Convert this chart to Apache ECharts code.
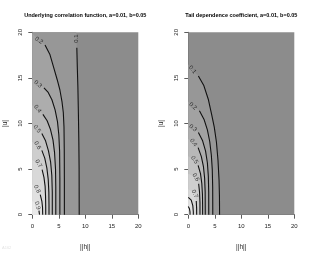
<!DOCTYPE html>
<html><head><meta charset="utf-8">
<script src="https://cdn.jsdelivr.net/npm/echarts@6/dist/echarts.min.js"></script>
<style>html,body{margin:0;padding:0;background:#fff}#c{width:311px;height:256px}</style>
</head><body><div id="c"></div>
<script>
// contour levels
const levels = ['0.1','0.2','0.3','0.4','0.5','0.6','0.7','0.8','0.9'];
const axisTicks = [0, 5, 10, 15, 20];
const titles = ['Underlying correlation function, a=0.01, b=0.05', 'Tail dependence coefficient, a=0.01, b=0.05'];

// Left panel contours: [|h|, |u|] points
const left01 = [[0,20],[8.3,20],[8.33,19.3],[8.4,18.3],[8.5,16],[8.6,14],[8.7,11],[8.78,8],[8.83,5],[8.85,0]];
const left02 = [[0,19.9],[1.26,19.1],[2.4,18.6],[3.3,17.6],[4.0,16.2],[4.7,14.8],[5.2,13.7],[5.6,12.4],[5.85,11.2],[5.98,9.6],[6.03,7],[6.05,4],[6.05,0]];
const left03 = [[0,14.8],[1.07,14.3],[2.2,13.9],[3.0,13.4],[3.7,12.6],[4.3,11.5],[4.75,10.2],[5.0,8.8],[5.15,7],[5.2,4],[5.2,0]];
const left04 = [[0,12.0],[0.98,11.6],[2.0,11.0],[2.8,10.3],[3.4,9.4],[3.9,8.2],[4.2,6.8],[4.38,5],[4.43,3],[4.43,0]];
const left05 = [[0,9.8],[0.9,9.4],[1.8,8.9],[2.5,8.1],[3.05,7.0],[3.45,5.8],[3.68,4.3],[3.77,2.5],[3.77,0]];
const left06 = [[0,8.0],[0.98,7.6],[1.8,7.05],[2.35,6.2],[2.75,5.1],[3.0,3.9],[3.12,2.5],[3.15,1],[3.15,0]];
const left07 = [[0,6.0],[1.17,5.6],[1.85,4.95],[2.2,4.1],[2.42,3.1],[2.5,2],[2.53,0.8],[2.53,0]];
const left08 = [[0,3.3],[0.9,2.8],[1.5,2.2],[1.8,1.5],[1.93,0.8],[1.96,0]];
const left09 = [[0,1.5],[0.95,1.0],[1.25,0.45],[1.36,0]];
const leftLabelIdx = [2,1,1,1,1,1,1,1,1];
const leftLabelRot = [90,-35,-40,-54,-55,-61,-58,-65,-75];

// Right panel contours
const right01 = [[0,16.5],[0.79,15.9],[1.9,15.2],[2.9,14.2],[3.8,12.6],[4.4,11.0],[4.9,9.6],[5.3,8],[5.6,6],[5.8,3.8],[5.88,2],[5.9,0]];
const right02 = [[0,12.4],[0.89,11.9],[2.1,11.4],[3.0,10.4],[3.6,9.3],[4.05,8.0],[4.35,6.5],[4.52,5],[4.6,3],[4.62,0]];
const right03 = [[0,9.9],[0.89,9.5],[1.9,9.0],[2.7,8.1],[3.25,7.0],[3.6,5.7],[3.78,4.2],[3.85,2.5],[3.86,0]];
const right04 = [[0,8.3],[0.98,7.9],[1.85,7.35],[2.45,6.4],[2.85,5.3],[3.08,4.0],[3.18,2.5],[3.2,0]];
const right05 = [[0,6.4],[1.17,6.0],[1.85,5.4],[2.3,4.5],[2.55,3.4],[2.67,2.2],[2.7,1],[2.7,0]];
const right06 = [[0,4.5],[1.4,4.1],[1.95,3.4],[2.12,2.5],[2.2,1.3],[2.2,0]];
const right07 = [[0,2.8],[1.2,2.3],[1.5,1.5],[1.57,0.7],[1.58,0]];
const right08 = [[0,1.9],[0.55,1.6],[0.85,1.0],[0.95,0.3],[0.95,0]];
const right09 = [[0,0.9],[0.22,0.65],[0.32,0.3],[0.33,0]];
const rightLabelIdx = [1,1,1,1,1,1,1,-1,-1];
const rightLabelRot = [-50,-40,-40,-55,-55,-60,-65,0,0];

// grey shades: below 0.1, then one per band above each level
const bandGray = ['#8c8c8c','#979797','#a2a2a2','#adadad','#b8b8b8','#c3c3c3','#cecece','#d8d8d8','#e1e1e1','#eaeaea'];

const panels = [
  {contours:[left01,left02,left03,left04,left05,left06,left07,left08,left09], idx:leftLabelIdx, rot:leftLabelRot, left:32.3},
  {contours:[right01,right02,right03,right04,right05,right06,right07,right08,right09], idx:rightLabelIdx, rot:rightLabelRot, left:188.3}
];
const copy = arr => arr.map(pt => [pt[0], pt[1]]);
const FONT = 'Liberation Sans';

function buildOption(f) {
  const grids = [], xAxes = [], yAxes = [], series = [], titleArr = [];
  panels.forEach((p, k) => {
    grids.push({left:p.left, top:32.3, width:106, height:182.4});
    if (f.titles) titleArr.push({text:titles[k], left:p.left+53, top:12, textAlign:'center', padding:0,
      textStyle:{fontFamily:FONT, fontSize:5.5, fontWeight:'bold', color:'#000'}});
    if (f.axisStyle) {
      xAxes.push({gridIndex:k, type:'value', min:0, max:20, interval:5, name:'||h||', nameLocation:'middle', nameGap:29,
        nameTextStyle:{fontFamily:FONT, fontSize:6.5, color:'#222'},
        axisLine:{show:true, onZero:false, lineStyle:{color:'#333', width:0.8}},
        axisTick:{show:true, length:4, lineStyle:{color:'#333', width:0.8}},
        axisLabel:{fontFamily:FONT, fontSize:6, color:'#222', margin:9},
        splitLine:{show:false}});
      yAxes.push({gridIndex:k, type:'value', min:0, max:20, interval:5, name:'|u|', nameLocation:'middle', nameGap:24,
        nameTextStyle:{fontFamily:FONT, fontSize:6.5, color:'#222'},
        axisLine:{show:true, onZero:false, lineStyle:{color:'#333', width:0.8}},
        axisTick:{show:true, length:4, lineStyle:{color:'#333', width:0.8}},
        axisLabel:{fontFamily:FONT, fontSize:6, color:'#222', margin:9, rotate:90},
        splitLine:{show:false}});
    } else {
      xAxes.push({gridIndex:k, type:'value', min:0, max:20});
      yAxes.push({gridIndex:k, type:'value', min:0, max:20});
    }
    const contours = p.contours.map(copy);
    series.push({type:'custom', xAxisIndex:k, yAxisIndex:k, z:1,
      data:[[0, 0, 20, 20]],
      renderItem: function (params, api) {
        const a = api.coord([api.value(0), api.value(1)]);
        const b = api.coord([api.value(2), api.value(3)]);
        return {type:'rect', shape:{x:a[0], y:b[1], width:b[0]-a[0], height:a[1]-b[1]}, style:{fill:bandGray[0]}};
      }});
    contours.forEach((pts, i) => {
      if (f.fill === 'line') {
        series.push({type:'line', xAxisIndex:k, yAxisIndex:k, data:copy(pts), symbol:'none', z:2 + i,
          lineStyle:{color:bandGray[i+1], width:0.5}, areaStyle:{color:bandGray[i+1], opacity:1}});
      } else {
        series.push({type:'custom', xAxisIndex:k, yAxisIndex:k, z:2 + i,
          data: copy(pts),
          renderItem: function (params, api) {
            if (params.dataIndexInside !== 0) return null;
            const poly = pts.map(pt => api.coord(pt));
            poly.push(api.coord([pts[pts.length-1][0], 0]));
            poly.push(api.coord([0, 0]));
            const d = 'M' + poly.map(q => q[0].toFixed(2) + ' ' + q[1].toFixed(2)).join(' L') + ' Z';
            return {type:'path', shape:{pathData:d}, style:{fill:bandGray[i+1]}};
          }});
      }
    });
    if (f.strokes) contours.forEach((pts, i) => {
      series.push({type:'line', xAxisIndex:k, yAxisIndex:k, data:copy(pts.slice(p.idx[i]+1)), symbol:'none', z:20,
        lineStyle:{color:'#111', width:1.1}});
    });
    if (f.labels) {
      const lab = [];
      contours.forEach((pts, i) => {
        if (p.idx[i] < 0) return;
        lab.push({value:[pts[p.idx[i]][0], pts[p.idx[i]][1]], label:{show:true, formatter:levels[i], rotate:p.rot[i]}});
      });
      series.push({type:'scatter', xAxisIndex:k, yAxisIndex:k, data:lab, symbolSize:1, z:21,
        itemStyle:{color:'rgba(0,0,0,0)'},
        label:{show:true, position:'inside', fontFamily:FONT, fontSize:6, color:'#111'}});
    }
  });
  const opt = {animation:false, backgroundColor:'#fff', grid:grids, xAxis:xAxes, yAxis:yAxes, series:series};
  if (titleArr.length) opt.title = titleArr;
  return opt;
}

const variants = [
  {code:'A', fill:'path', titles:true, axisStyle:true, strokes:true, labels:true},
  {code:'B', fill:'line', titles:true, axisStyle:true, strokes:true, labels:true},
  {code:'C', fill:'path', titles:true, axisStyle:true, strokes:true, labels:false},
  {code:'D', fill:'path', titles:true, axisStyle:true, strokes:false, labels:true},
  {code:'E', fill:'path', titles:false, axisStyle:true, strokes:true, labels:true},
  {code:'F', fill:'path', titles:true, axisStyle:false, strokes:true, labels:true},
  {code:'G', fill:'path', titles:false, axisStyle:false, strokes:false, labels:false}
];
const chart = echarts.init(document.getElementById('c'), null, {renderer:'canvas'});
function sample() {
  const pt = chart.convertToPixel({gridIndex:0}, [5.6, 2]);
  const cv = document.querySelector('#c canvas');
  const d = cv.getContext('2d').getImageData(Math.round(pt[0]), Math.round(pt[1]), 1, 1).data;
  return d[0];
}
let chosen = null, val = 0, log = [];
for (const v of variants) {
  try {
    chart.clear();
    chart.setOption(buildOption(v), true);
    chart.getZr().refreshImmediately();
    val = sample();
    log.push(v.code + val);
    if (val >= 150) { chosen = v; break; }
  } catch (e) { log.push(v.code + 'E:' + e.message); }
}
if (!chosen) {
  chart.clear();
  chart.setOption(buildOption(variants[0]), true);
  chart.getZr().refreshImmediately();
  try {
    const pt = chart.convertToPixel({gridIndex:0}, [5.6, 2]);
    const list = chart.getZr().storage.getDisplayList(true);
    const bands = list.filter(el => el.style && bandGray.slice(1).indexOf(el.style.fill) >= 0);
    let info = 'n' + list.length + ' b' + bands.length;
    bands.slice(0, 2).forEach(el => {
      const r = el.getBoundingRect();
      info += ' [' + el.type + ' z' + el.z + ' z2:' + el.z2 + ' inv' + el.invisible + ' ig' + el.ignore + ' op' + el.style.opacity +
        ' r' + [r.x, r.y, r.width, r.height].map(q => q.toFixed(0)).join(',') + ' cp' + (el.__clipPaths ? el.__clipPaths.length : '-') + ']';
    });
    const over = list.filter(el => { const r = el.getBoundingRect(); const t = el.transform; return r.contain(pt[0] - (t ? t[4] : 0), pt[1] - (t ? t[5] : 0)); });
    info += ' top:' + over.slice(-4).map(el => el.type + '/z' + el.z + '/' + (el.style && el.style.fill)).join(' ');
    log.push(info);
  } catch (e) { log.push('X:' + e.message); }
}
chart.setOption({graphic:[{type:'text', left:2, top:chosen ? 246 : 2, z:100,
  style:{text:log.join(' '), fontSize:chosen ? 4 : 6, fill:chosen ? '#e4e4e4' : '#c00', width:305, overflow:'break'}}]});
</script></body></html>
